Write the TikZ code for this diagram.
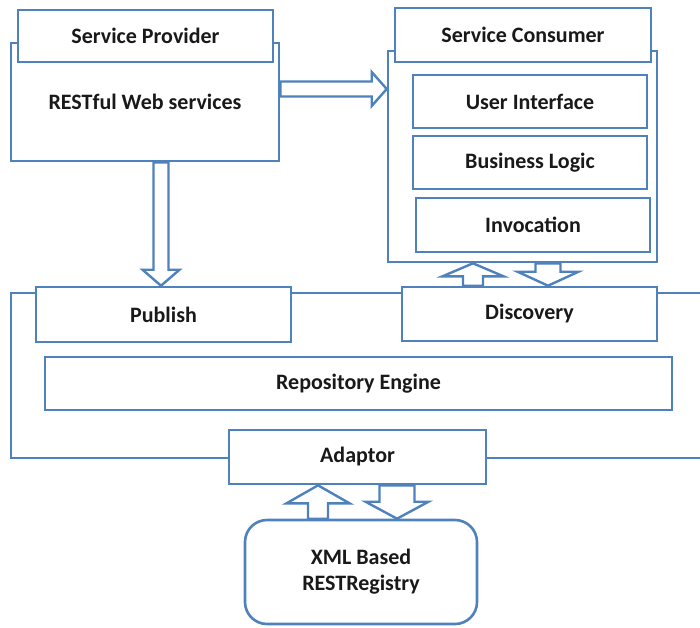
\documentclass[tikz,border=0pt]{standalone}
\usepackage{fontspec}
\setmainfont{Carlito}
\usetikzlibrary{calc}
\definecolor{lineblue}{RGB}{79,129,189}
\tikzset{
  box/.style={draw=lineblue, line width=2.6pt, fill=white, inner sep=0pt,
    font=\bfseries\fontsize{22}{26}\selectfont, text=black!90},
  blk/.style={draw=lineblue, line width=2.4pt, fill=white, line join=miter}
}
% hollow block arrow: tail, tip, shaft half width, head half width, head length
\newcommand{\blockarrow}[5]{%
  \draw[blk] let \p1=#1, \p2=#2, \p3=($(\p2)!#5pt!(\p1)$) in
    ($(\p1)!#3pt!90:(\p2)$) -- ($(\p3)!#3pt!90:(\p2)$) -- ($(\p3)!#4pt!90:(\p2)$)
    -- (\p2) -- ($(\p3)!#4pt!-90:(\p2)$) -- ($(\p3)!#3pt!-90:(\p2)$)
    -- ($(\p1)!#3pt!-90:(\p2)$) -- cycle;}
\begin{document}
\begin{tikzpicture}[x=1pt,y=-1pt]
  \useasboundingbox (0,0) rectangle (700,627);
  % repository frame
  \draw[lineblue, line width=2.6pt] (703,293) -- (11,293) -- (11,458) -- (703,458);
  \node[box, minimum width=268, minimum height=118] (sp) at (145,102) {RESTful Web services};
  \node[box, minimum width=255, minimum height=52] (sph) at (145.5,36) {Service Provider};
  \node[box, minimum width=269, minimum height=211] (sc) at (522.5,156.5) {};
  \node[box, minimum width=256, minimum height=54] (sch) at (523,35) {Service Consumer};
  \node[box, minimum width=234, minimum height=53] (ui) at (530,101.5) {User Interface};
  \node[box, minimum width=234, minimum height=53] (bl) at (530,162.5) {Business Logic};
  \node[box, minimum width=234, minimum height=54] (inv) at (533,225) {Invocation};
  \node[box, minimum width=255, minimum height=55] (pub) at (163.5,314.5) {Publish};
  \node[box, minimum width=255, minimum height=54] (disc) at (529.5,314) {Discovery};
  \node[box, minimum width=627, minimum height=53] (eng) at (358.5,383.5) {Repository Engine};
  \node[box, minimum width=257, minimum height=54] (adp) at (357.5,457) {Adaptor};
  \node[box, rounded corners=22pt, minimum width=232, minimum height=104,
    align=center] (xml) at (361,572) {XML Based\\RESTRegistry};
  % arrows
  \coordinate (a1) at ($(sp.east)+(0,-13)$);
  \coordinate (a2) at ($(sp.south)+(16,0)$);
  \coordinate (a3) at ($(disc.north)+(-56.5,0)$);
  \coordinate (a4) at ($(sc.south)+(25.5,0)$);
  \coordinate (a5) at ($(xml.north)+(-43,0)$);
  \coordinate (a6) at ($(adp.south)+(39.5,0)$);
  \blockarrow{(a1)}{(a1 -| sc.west)}{7.5}{17}{15}
  \blockarrow{(a2)}{(a2 |- pub.north)}{7.5}{18.5}{16}
  \blockarrow{(a3)}{(a3 |- sc.south)}{10}{30.5}{13}
  \blockarrow{(a4)}{(a4 |- disc.north)}{12.5}{30.5}{14}
  \blockarrow{(a5)}{(a5 |- adp.south)}{10}{31.5}{18}
  \blockarrow{(a6)}{(a6 |- xml.north)}{17.5}{31.5}{17}
\end{tikzpicture}
\end{document}
